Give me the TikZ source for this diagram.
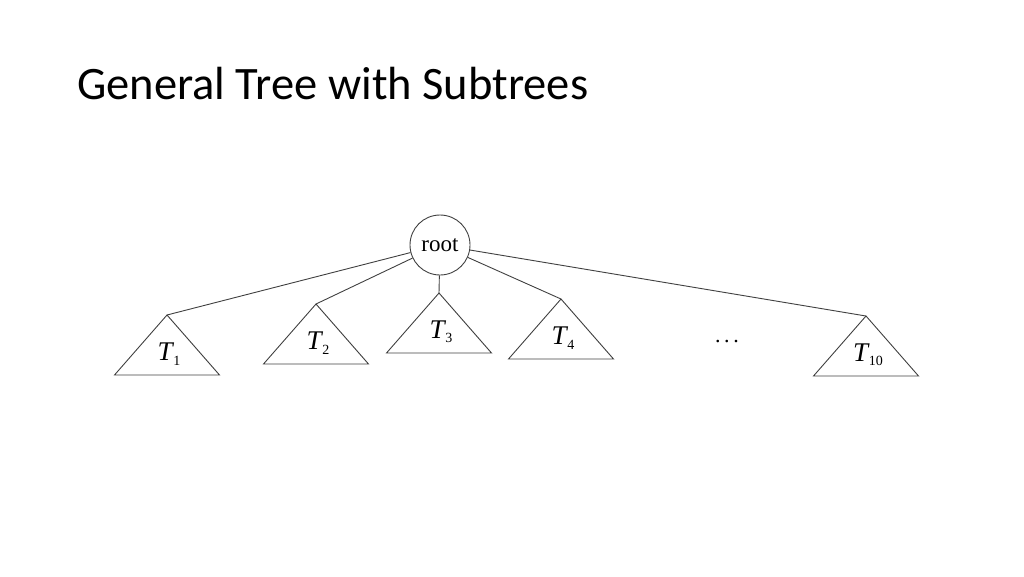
\documentclass[tikz,border=0pt]{standalone}
\usepackage{fontspec}
\setmainfont{Carlito}
\newfontfamily\treefont{Liberation Serif}
\newcommand{\subtreelabel}[1]{\textit{T}\kern-1pt\raisebox{-0.35ex}{\fontsize{14}{14}\selectfont #1}}

\tikzset{
    treeline/.style = {draw=black!75, line width=0.9pt},
    subtreelbl/.style = {inner sep=0pt, font=\treefont\fontsize{27}{27}\selectfont}
}

\begin{document}
\begin{tikzpicture}[x=1pt, y=-1pt]
    \useasboundingbox (0,0) rectangle (1024,576);

    % Title
    \node[anchor=base west, inner sep=0pt, font=\fontsize{46.5}{46.5}\selectfont] (title) at (77,99) {General Tree with Subtrees};

    % Root node
    \node[circle, treeline, minimum size=60pt, inner sep=0pt,
          font=\treefont\fontsize{23}{23}\selectfont] (root) at (440,245) {root};

    % Subtrees with their edges from the root
    \foreach \name/\x/\y/\k in {t1/167/315/1, t2/316/304/2, t3/439/293/3, t4/561/299/4, t10/866/316/10} {
        \coordinate (\name) at (\x,\y);
        \draw[treeline] (\name) -- ++(-52.5,60) -- ++(105,0) -- cycle;
        \node[subtreelbl] (\name-lbl) at ([shift={(2,39)}]\name) {\subtreelabel{\k}};
        \draw[treeline] (root) -- (\name);
    }

    % Dots for the omitted subtrees
    \node[font=\treefont\fontsize{22}{22}\selectfont] (dots) at (727,342) {.\,.\,.};
\end{tikzpicture}
\end{document}
